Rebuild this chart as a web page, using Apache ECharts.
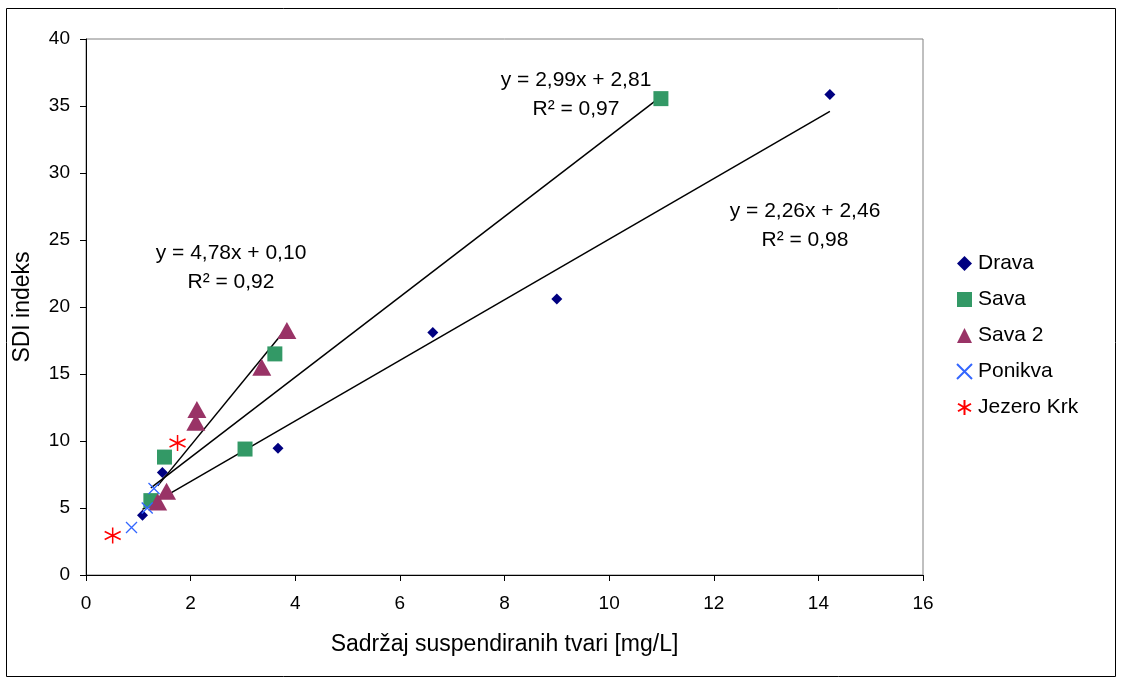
<!DOCTYPE html>
<html>
<head>
<meta charset="utf-8">
<script src="https://cdn.jsdelivr.net/npm/echarts@6/dist/echarts.min.js"></script>
<style>html,body{margin:0;padding:0;background:#fff;}#c{width:1121px;height:679px;}</style>
</head>
<body>
<div id="c"></div>
<script>
// Data
var drava = [[1.08, 4.45], [1.46, 7.65], [3.67, 9.45], [6.63, 18.1], [9.0, 20.6], [14.22, 35.85]];
var sava = [[1.24, 5.55], [1.50, 8.8], [3.04, 9.4], [3.61, 16.5], [10.99, 35.55]];
var sava2 = [[1.37, 5.45], [1.54, 6.25], [2.10, 11.4], [2.12, 12.35], [3.36, 15.5], [3.84, 18.25]];
var ponikva = [[0.87, 3.55], [1.17, 5.0], [1.30, 6.45]];
var jezeroKrk = [[0.51, 2.95], [1.75, 9.85]];
// Trendline end points
var trendDrava = [[1.08, 4.9], [14.22, 34.6]];
var trendSava = [[1.24, 6.5], [10.99, 35.7]];
var trendSava2 = [[1.37, 6.65], [3.84, 18.45]];
var xTicks = [0, 2, 4, 6, 8, 10, 12, 14, 16];
var yTicks = [0, 5, 10, 15, 20, 25, 30, 35, 40];
var seriesNames = ['Drava', 'Sava', 'Sava 2', 'Ponikva', 'Jezero Krk'];
var equations = [
  {eq: 'y = 2,99x + 2,81', r2: 'R\u00B2 = 0,97', x: 576, y: 80},
  {eq: 'y = 2,26x + 2,46', r2: 'R\u00B2 = 0,98', x: 805, y: 211},
  {eq: 'y = 4,78x + 0,10', r2: 'R\u00B2 = 0,92', x: 231, y: 253}
];

var FONT = '"Liberation Sans", Arial, sans-serif';
var chart = echarts.init(document.getElementById('c'));

function trend(data) {
  return {
    type: 'line', data: data, symbol: 'none', silent: true,
    lineStyle: {color: '#000', width: 1.5}, z: 1, animation: false
  };
}

var graphics = [
  {type: 'rect', shape: {x: 6.5, y: 8.5, width: 1109, height: 668}, style: {fill: 'none', stroke: '#000', lineWidth: 1}, silent: true}
];
equations.forEach(function (e) {
  graphics.push({type: 'text', x: e.x, y: e.y, style: {text: e.eq, font: '21px ' + FONT, fill: '#000', textAlign: 'center', textVerticalAlign: 'middle'}});
  graphics.push({type: 'text', x: e.x, y: e.y + 29, style: {text: e.r2, font: '21px ' + FONT, fill: '#000', textAlign: 'center', textVerticalAlign: 'middle'}});
});

chart.setOption({
  animation: false,
  backgroundColor: '#fff',
  grid: {left: 86, top: 39, width: 837, height: 536, show: true, borderColor: '#808080', borderWidth: 1, backgroundColor: 'transparent'},
  xAxis: {
    type: 'value', min: 0, max: 16, interval: 2,
    name: 'Sadržaj suspendiranih tvari [mg/L]', nameLocation: 'middle', nameGap: 58,
    nameTextStyle: {fontSize: 23, fontFamily: FONT, color: '#000'},
    axisLine: {show: true, onZero: false, lineStyle: {color: '#000', width: 1}},
    axisTick: {show: true, inside: false, length: 6, lineStyle: {color: '#000'}},
    axisLabel: {fontSize: 19, fontFamily: FONT, color: '#000', margin: 19,
      formatter: function (v) { return xTicks.indexOf(v) >= 0 ? String(v) : ''; }},
    splitLine: {show: false}
  },
  yAxis: {
    type: 'value', min: 0, max: 40, interval: 5,
    name: 'SDI indeks', nameLocation: 'middle', nameGap: 52, nameRotate: 90,
    nameTextStyle: {fontSize: 23, fontFamily: FONT, color: '#000'},
    axisLine: {show: true, onZero: false, lineStyle: {color: '#000', width: 1}},
    axisTick: {show: true, inside: false, length: 6, lineStyle: {color: '#000'}},
    axisLabel: {fontSize: 19, fontFamily: FONT, color: '#000', margin: 16,
      formatter: function (v) { return yTicks.indexOf(v) >= 0 ? String(v) : ''; }},
    splitLine: {show: false}
  },
  legend: {
    orient: 'vertical', left: 951, top: 248, itemGap: 15, itemWidth: 15, itemHeight: 15,
    data: seriesNames,
    textStyle: {fontSize: 21, fontFamily: FONT, color: '#000', padding: [0, 0, 0, 1]}
  },
  graphic: graphics,
  series: [
    trend(trendDrava), trend(trendSava), trend(trendSava2),
    {name: seriesNames[0], type: 'scatter', data: drava, symbol: 'diamond', symbolSize: 11,
      itemStyle: {color: '#000080', opacity: 1}, z: 3},
    {name: seriesNames[1], type: 'scatter', data: sava, symbol: 'rect', symbolSize: 15,
      itemStyle: {color: '#339966', opacity: 1}, z: 3},
    {name: seriesNames[2], type: 'scatter', data: sava2, symbol: 'triangle', symbolSize: [19, 17],
      itemStyle: {color: '#993366', opacity: 1}, z: 3},
    {name: seriesNames[3], type: 'scatter', data: ponikva, symbol: 'path://M-1,-1L1,1M-1,1L1,-1', symbolSize: 11,
      itemStyle: {color: '#3366FF', borderColor: '#3366FF', borderWidth: 1.3, opacity: 1}, z: 4},
    {name: seriesNames[4], type: 'scatter', data: jezeroKrk, symbol: 'path://M0,-1L0,1M-0.866,-0.5L0.866,0.5M-0.866,0.5L0.866,-0.5', symbolSize: 16,
      itemStyle: {color: '#FF0000', borderColor: '#FF0000', borderWidth: 1.5, opacity: 1}, z: 4}
  ]
});
</script>
</body>
</html>
